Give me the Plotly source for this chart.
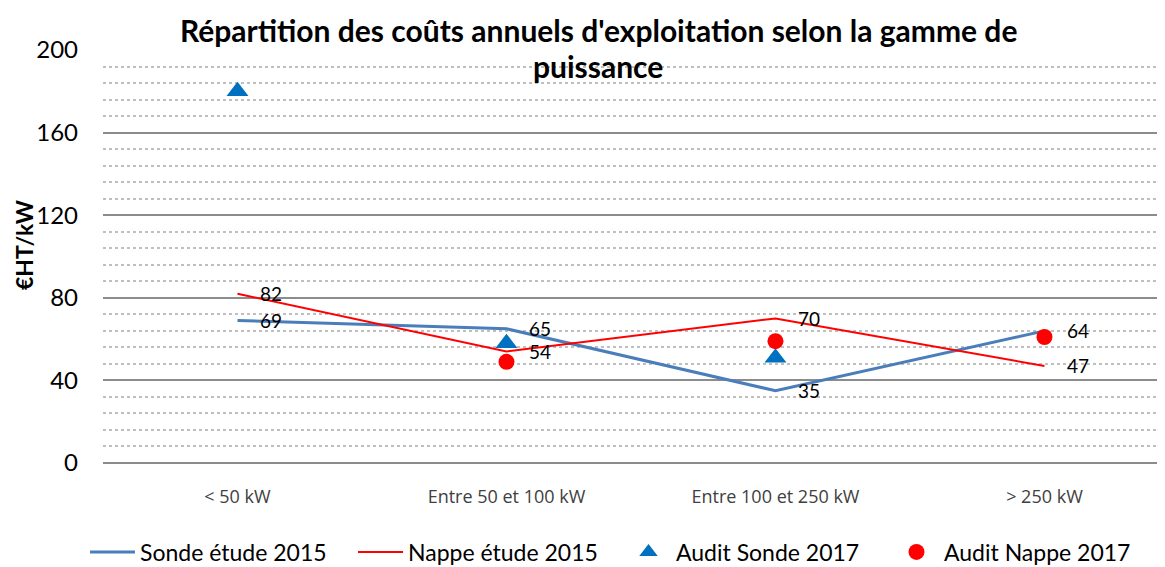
import plotly.graph_objects as go

categories = ["< 50 kW", "Entre 50 et 100 kW", "Entre 100 et 250 kW", "> 250 kW"]
sonde_2015 = [69, 65, 35, 64]
nappe_2015 = [82, 54, 70, 47]
audit_sonde_2017 = [180, 58, 51, None]
audit_nappe_2017 = [None, 49, 59, 61]
y_ticks = [0, 40, 80, 120, 160, 200]

xs = list(range(len(categories)))
FONT = "Lato"
PLOT_H = 413.0
PLOT_W = 1059.0
OFF = 8  # page body margin of the html

fig = go.Figure()
fig.add_trace(go.Scatter(x=xs, y=sonde_2015, mode="lines", name="Sonde étude 2015",
                         line=dict(color="#4A7EBB", width=3)))
fig.add_trace(go.Scatter(x=xs, y=nappe_2015, mode="lines", name="Nappe étude 2015",
                         line=dict(color="#FF0000", width=2)))
fig.add_trace(go.Scatter(x=xs, y=audit_sonde_2017, mode="markers", name="Audit Sonde 2017",
                         marker=dict(symbol="triangle-up", color="#0070C0", size=19)))
fig.add_trace(go.Scatter(x=xs, y=audit_nappe_2017, mode="markers", name="Audit Nappe 2017",
                         marker=dict(symbol="circle", color="#FF0000", size=16)))

for series in (sonde_2015, nappe_2015):
    for x, v in zip(xs, series):
        fig.add_annotation(x=x, y=v, text=str(v), showarrow=False, xanchor="left",
                           yanchor="middle", xshift=21,
                           font=dict(family=FONT, size=19, color="#000000"))

fig.add_annotation(xref="paper", yref="paper", x=(24 - 103) / PLOT_W, y=(463 - 245) / PLOT_H,
                   text="<b>€HT/kW</b>",
                   textangle=-90, showarrow=False, xanchor="center", yanchor="middle",
                   font=dict(family=FONT, size=23, color="#000000"))
fig.add_annotation(xref="paper", yref="paper", x=(598 - 103) / PLOT_W, y=1.0 + (50 - 30) / PLOT_H,
                   text="<b>Répartition des coûts annuels d'exploitation selon la gamme de</b>",
                   showarrow=False, xanchor="center", yanchor="middle",
                   font=dict(family=FONT, size=30, color="#000000"))
fig.add_annotation(xref="paper", yref="paper", x=(598 - 103) / PLOT_W, y=1.0 - (66 - 50) / PLOT_H,
                   text="<b>puissance</b>",
                   showarrow=False, xanchor="center", yanchor="middle",
                   font=dict(family=FONT, size=30, color="#000000"))

fig.update_layout(
    width=1165 - OFF, height=567 - OFF,
    margin=dict(l=103 - OFF, r=3, t=50 - OFF, b=104, autoexpand=False),
    paper_bgcolor="white", plot_bgcolor="white",
    showlegend=True,
    legend=dict(orientation="h", x=(85 - 103) / PLOT_W, xanchor="left",
                y=-(552 - 463) / PLOT_H, yanchor="middle",
                font=dict(family=FONT, size=23, color="#000000"), itemwidth=45,
                entrywidth=208, entrywidthmode="pixels",
                tracegroupgap=0),
    xaxis=dict(tickvals=xs, ticktext=categories, range=[-0.5, 3.437],
               showgrid=False, zeroline=False, showline=False, ticks="",
               tickfont=dict(family="Open Sans", size=18, color="#404040"),
               ticklabelstandoff=21, automargin=False),
    yaxis=dict(range=[0, 200], tickvals=y_ticks, showgrid=True, gridcolor="#8C8C8C",
               gridwidth=2, zeroline=True, zerolinecolor="#8C8C8C", zerolinewidth=2,
               showline=False, ticks="", automargin=False,
               tickfont=dict(family=FONT, size=24, color="#000000"),
               ticklabelstandoff=24,
               minor=dict(dtick=8, showgrid=True, gridcolor="#BFBFBF", griddash="dot",
                          gridwidth=1.5)),
)

fig.write_html("out.html")
